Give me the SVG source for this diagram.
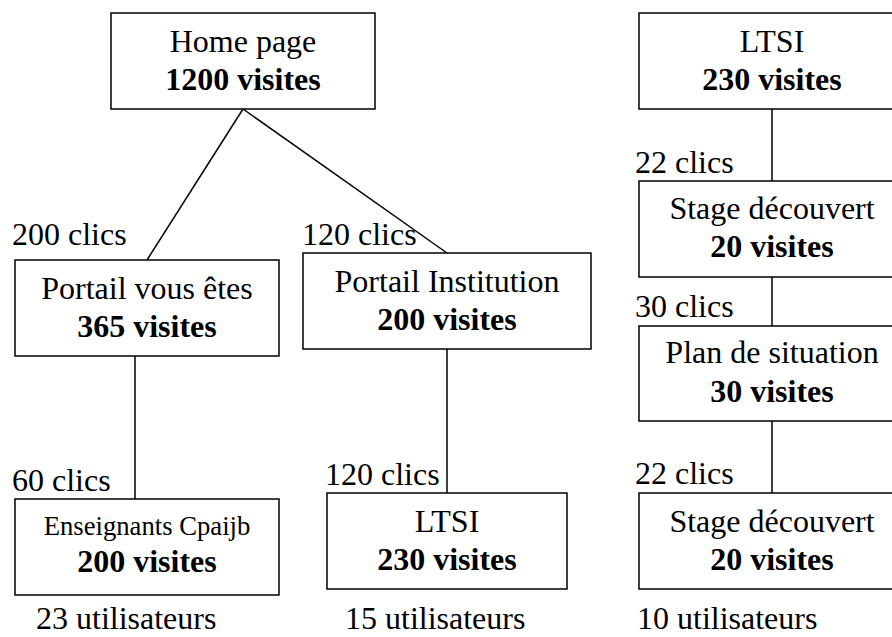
<svg xmlns="http://www.w3.org/2000/svg" width="892" height="637" viewBox="0 0 892 637">
<style>
  .box { fill: #fff; stroke: #000; stroke-width: 1.5; }
  .conn line { stroke: #000; stroke-width: 1.5; }
  text { font-family: "Liberation Serif", "Times New Roman", serif; fill: #000; font-size: 32px; }
  .c { text-anchor: middle; }
  .b { font-weight: bold; }
  .sm { font-size: 26.67px; }
</style>
<rect width="892" height="637" fill="#fff"/>
<g id="connectors" class="conn">
  <line x1="243" y1="109" x2="147" y2="260"/>
  <line x1="243" y1="109" x2="447" y2="253"/>
  <line x1="135" y1="356" x2="135" y2="499"/>
  <line x1="447" y1="349" x2="447" y2="493"/>
  <line x1="772" y1="109" x2="772" y2="181"/>
  <line x1="772" y1="277" x2="772" y2="326"/>
  <line x1="772" y1="421" x2="772" y2="493"/>
</g>
<g id="home">
  <rect class="box" x="111" y="13" width="264" height="96"/>
  <text class="c" x="243" y="52">Home page</text>
  <text class="c b" x="243" y="90">1200 visites</text>
</g>
<g id="portail-vous">
  <rect class="box" x="15" y="260" width="264" height="96"/>
  <text class="c" x="147" y="299">Portail vous êtes</text>
  <text class="c b" x="147" y="337">365 visites</text>
</g>
<g id="portail-inst">
  <rect class="box" x="303" y="253" width="288" height="96"/>
  <text class="c" x="447" y="292">Portail Institution</text>
  <text class="c b" x="447" y="330">200 visites</text>
</g>
<g id="enseignants">
  <rect class="box" x="15" y="499" width="264" height="96"/>
  <text class="c sm" x="147" y="535">Enseignants Cpaijb</text>
  <text class="c b" x="147" y="572">200 visites</text>
</g>
<g id="ltsi-mid">
  <rect class="box" x="327" y="493" width="240" height="96"/>
  <text class="c" x="447" y="532">LTSI</text>
  <text class="c b" x="447" y="570">230 visites</text>
</g>
<g id="ltsi-right">
  <rect class="box" x="639" y="13" width="266" height="96"/>
  <text class="c" x="772" y="52">LTSI</text>
  <text class="c b" x="772" y="90">230 visites</text>
</g>
<g id="stage1">
  <rect class="box" x="639" y="181" width="266" height="96"/>
  <text class="c" x="772" y="219">Stage découvert</text>
  <text class="c b" x="772" y="257">20 visites</text>
</g>
<g id="plan">
  <rect class="box" x="639" y="326" width="266" height="95"/>
  <text class="c" x="772" y="363">Plan de situation</text>
  <text class="c b" x="772" y="402">30 visites</text>
</g>
<g id="stage2">
  <rect class="box" x="639" y="493" width="266" height="96"/>
  <text class="c" x="772" y="532">Stage découvert</text>
  <text class="c b" x="772" y="570">20 visites</text>
</g>
<g id="labels">
  <text x="12" y="245">200 clics</text>
  <text x="302" y="245">120 clics</text>
  <text x="12" y="491">60 clics</text>
  <text x="325" y="485">120 clics</text>
  <text x="635" y="173">22 clics</text>
  <text x="635" y="317">30 clics</text>
  <text x="635" y="484">22 clics</text>
  <text x="36" y="629">23 utilisateurs</text>
  <text x="345" y="629">15 utilisateurs</text>
  <text x="637" y="629">10 utilisateurs</text>
</g>
</svg>
